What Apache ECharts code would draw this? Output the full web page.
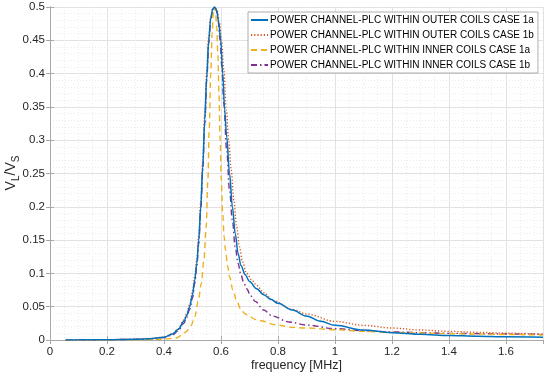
<!DOCTYPE html>
<html>
<head>
<meta charset="utf-8">
<script src="https://cdn.jsdelivr.net/npm/echarts@6/dist/echarts.min.js"></script>
<style>
html,body{margin:0;padding:0;background:#fff;}
#c{width:550px;height:377px;}
</style>
</head>
<body>
<div id="c"></div>
<script>
// ---- data ----
var seriesNames = [
  'POWER CHANNEL-PLC WITHIN OUTER COILS CASE 1a',
  'POWER CHANNEL-PLC WITHIN OUTER COILS CASE 1b',
  'POWER CHANNEL-PLC WITHIN INNER COILS CASE 1a',
  'POWER CHANNEL-PLC WITHIN INNER COILS CASE 1b'
];
var xTicks = [0, 0.2, 0.4, 0.6, 0.8, 1, 1.2, 1.4, 1.6];
var yTicks = [0, 0.05, 0.1, 0.15, 0.2, 0.25, 0.3, 0.35, 0.4, 0.45, 0.5];
var xTitle = 'frequency [MHz]';
var yTitle = '{a|V}{b|L}{a|/V}{b|S}';

var freqOuter1a = [0.055,0.1,0.2,0.3,0.35,0.4,0.43,0.45,0.47,0.48,0.49,0.5,0.508,0.515,0.522,0.529,0.536,0.543,0.55,0.557,0.564,0.571,0.578,0.585,0.592,0.599,0.606,0.613,0.62,0.63,0.64,0.65,0.66,0.67,0.685,0.7,0.725,0.75,0.775,0.8,0.85,0.9,0.95,1.0,1.1,1.2,1.3,1.4,1.5,1.6,1.73];
var valOuter1a  = [0.0001,0.0002,0.0005,0.0012,0.002,0.004,0.009,0.016,0.028,0.037,0.05,0.068,0.09,0.115,0.15,0.2,0.26,0.33,0.395,0.45,0.483,0.497,0.5,0.495,0.477,0.45,0.4,0.345,0.305,0.25,0.2,0.16,0.13,0.112,0.098,0.088,0.077,0.068,0.061,0.055,0.045,0.036,0.028,0.022,0.015,0.011,0.0085,0.0068,0.0056,0.0047,0.004];

var freqOuter1b = [0.055,0.1,0.2,0.3,0.35,0.4,0.43,0.45,0.47,0.48,0.49,0.5,0.508,0.515,0.522,0.529,0.536,0.543,0.55,0.557,0.564,0.571,0.579,0.587,0.594,0.602,0.61,0.619,0.627,0.636,0.645,0.655,0.665,0.675,0.69,0.71,0.725,0.75,0.783,0.85,0.9,1.0,1.1,1.2,1.3,1.4,1.5,1.6,1.73];
var valOuter1b  = [0.0001,0.0002,0.0005,0.0012,0.002,0.0042,0.0095,0.017,0.03,0.04,0.053,0.072,0.095,0.12,0.157,0.208,0.27,0.34,0.405,0.455,0.486,0.498,0.5,0.494,0.478,0.45,0.405,0.345,0.3,0.255,0.21,0.17,0.14,0.118,0.1,0.089,0.082,0.071,0.059,0.046,0.039,0.028,0.022,0.018,0.015,0.013,0.0115,0.0102,0.009];

var freqInner1a = [0.055,0.2,0.3,0.4,0.443,0.46,0.478,0.495,0.508,0.52,0.531,0.54,0.548,0.554,0.559,0.564,0.569,0.573,0.577,0.581,0.585,0.589,0.593,0.597,0.601,0.606,0.611,0.616,0.623,0.63,0.642,0.654,0.67,0.685,0.7,0.72,0.74,0.79,0.85,0.9,1.0,1.1,1.2,1.3,1.4,1.5,1.6,1.73];
var valInner1a  = [0.0,0.0001,0.0003,0.0012,0.003,0.0065,0.0125,0.022,0.035,0.058,0.085,0.12,0.17,0.24,0.32,0.4,0.46,0.49,0.5,0.492,0.47,0.43,0.37,0.3,0.24,0.19,0.155,0.135,0.112,0.095,0.075,0.06,0.046,0.039,0.035,0.031,0.029,0.023,0.019,0.018,0.0155,0.013,0.0115,0.0105,0.0095,0.009,0.0082,0.0075];

var freqInner1b = [0.055,0.1,0.2,0.3,0.35,0.4,0.43,0.45,0.47,0.48,0.49,0.5,0.508,0.515,0.522,0.529,0.536,0.543,0.55,0.557,0.564,0.571,0.577,0.584,0.59,0.597,0.603,0.61,0.62,0.63,0.64,0.65,0.66,0.67,0.68,0.69,0.705,0.72,0.75,0.78,0.84,0.9,1.0,1.1,1.2,1.3,1.4,1.5,1.6,1.73];
var valInner1b  = [0.0001,0.0002,0.0004,0.001,0.0017,0.0035,0.0075,0.014,0.025,0.034,0.046,0.063,0.085,0.11,0.145,0.195,0.255,0.325,0.39,0.445,0.48,0.496,0.5,0.495,0.478,0.45,0.41,0.355,0.285,0.225,0.18,0.14,0.115,0.098,0.086,0.077,0.066,0.058,0.045,0.036,0.027,0.0225,0.017,0.0138,0.0122,0.011,0.01,0.0095,0.009,0.0085];

function pairs(xs, ys) { return xs.map(function (x, i) { return [x, ys[i]]; }); }

var colors = ['#0072BD', '#D95319', '#EDB120', '#7E2F8E'];
var dashes = ['solid', [1.2, 2], [6, 4], [6, 3, 1.5, 3]];
var dataSets = [
  pairs(freqOuter1a, valOuter1a),
  pairs(freqOuter1b, valOuter1b),
  pairs(freqInner1a, valInner1a),
  pairs(freqInner1b, valInner1b)
];

var XMAX = 1.73;
var font = '"Liberation Sans", Arial, Helvetica, sans-serif';
var axisCol = '#a8a8a8';

function nearestLabel(list, v) {
  var best = list[0];
  for (var i = 0; i < list.length; i++) { if (Math.abs(list[i] - v) < Math.abs(best - v)) best = list[i]; }
  return Math.abs(best - v) < 1e-6 ? String(best) : '';
}

var chart = echarts.init(document.getElementById('c'), null, {renderer: 'canvas'});

var series = dataSets.map(function (d, i) {
  return {
    name: seriesNames[i],
    type: 'line',
    data: d,
    symbol: 'none',
    smooth: 0.35,
    smoothMonotone: 'x',
    lineStyle: {color: colors[i], width: i === 0 ? 1.5 : 1.4, type: dashes[i]},
    itemStyle: {color: colors[i]},
    z: 10 - i
  };
});

chart.setOption({
  animation: false,
  backgroundColor: '#ffffff',
  textStyle: {fontFamily: font},
  grid: {left: 50, right: 7, top: 7, bottom: 37, containLabel: false, outerBoundsMode: 'none'},
  graphic: [{
    type: 'text',
    x: 13, y: 173,
    rotation: Math.PI / 2,
    silent: true,
    z: 0,
    style: {
      text: yTitle,
      align: 'center', verticalAlign: 'middle',
      fill: '#262626',
      rich: {
        a: {fontFamily: font, fontSize: 14, fill: '#262626', lineHeight: 17, verticalAlign: 'top'},
        b: {fontFamily: font, fontSize: 10, fill: '#262626', lineHeight: 17, verticalAlign: 'bottom'}
      }
    }
  }],
  legend: {
    orient: 'vertical',
    left: 248, top: 12,
    padding: [2, 4, 2, 2],
    itemWidth: 17, itemHeight: 12, itemGap: 3,
    backgroundColor: '#ffffff',
    borderColor: '#9a9a9a', borderWidth: 0.8,
    itemStyle: {opacity: 0},
    textStyle: {fontFamily: font, fontSize: 10, color: '#000', lineHeight: 12, padding: [0, 0, 0, -3]},
    data: seriesNames
  },
  xAxis: [{
    type: 'value', min: 0, max: XMAX, interval: 0.2,
    name: xTitle, nameLocation: 'middle', nameGap: 19, nameMoveOverlap: false,
    nameTextStyle: {fontFamily: font, fontSize: 12.5, color: '#262626'},
    axisLine: {show: true, lineStyle: {color: axisCol, width: 1}},
    axisTick: {show: true, inside: true, length: 4, lineStyle: {color: axisCol}},
    axisLabel: {fontFamily: font, fontSize: 11.5, color: '#262626', margin: 6, showMaxLabel: false,
      hideOverlap: false, formatter: function (v) { return nearestLabel(xTicks, v); }},
    splitLine: {show: true, lineStyle: {color: '#e2e2e2', width: 1}},
    minorTick: {show: false, splitNumber: 4},
    minorSplitLine: {show: true, lineStyle: {color: '#ececec', width: 1, type: [1, 2]}}
  }, {
    type: 'value', min: 0, max: XMAX, interval: 0.2, position: 'top',
    axisLine: {show: true, lineStyle: {color: axisCol, width: 1}},
    axisTick: {show: true, inside: true, length: 4, lineStyle: {color: axisCol}},
    axisLabel: {show: false},
    splitLine: {show: false}
  }],
  yAxis: [{
    type: 'value', min: 0, max: 0.5, interval: 0.05,
    axisLine: {show: true, lineStyle: {color: axisCol, width: 1}},
    axisTick: {show: true, inside: true, length: 4, lineStyle: {color: axisCol}},
    axisLabel: {fontFamily: font, fontSize: 11.5, color: '#262626', margin: 5,
      hideOverlap: false, showMinLabel: true, showMaxLabel: true,
      formatter: function (v) { return nearestLabel(yTicks, v); }},
    splitLine: {show: true, lineStyle: {color: '#e2e2e2', width: 1}},
    minorTick: {show: false, splitNumber: 5},
    minorSplitLine: {show: true, lineStyle: {color: '#ececec', width: 1, type: [1, 2]}}
  }, {
    type: 'value', min: 0, max: 0.5, interval: 0.05, position: 'right',
    axisLine: {show: true, lineStyle: {color: axisCol, width: 1}},
    axisTick: {show: true, inside: true, length: 4, lineStyle: {color: axisCol}},
    axisLabel: {show: false},
    splitLine: {show: false}
  }],
  series: series
});
</script>
</body>
</html>
